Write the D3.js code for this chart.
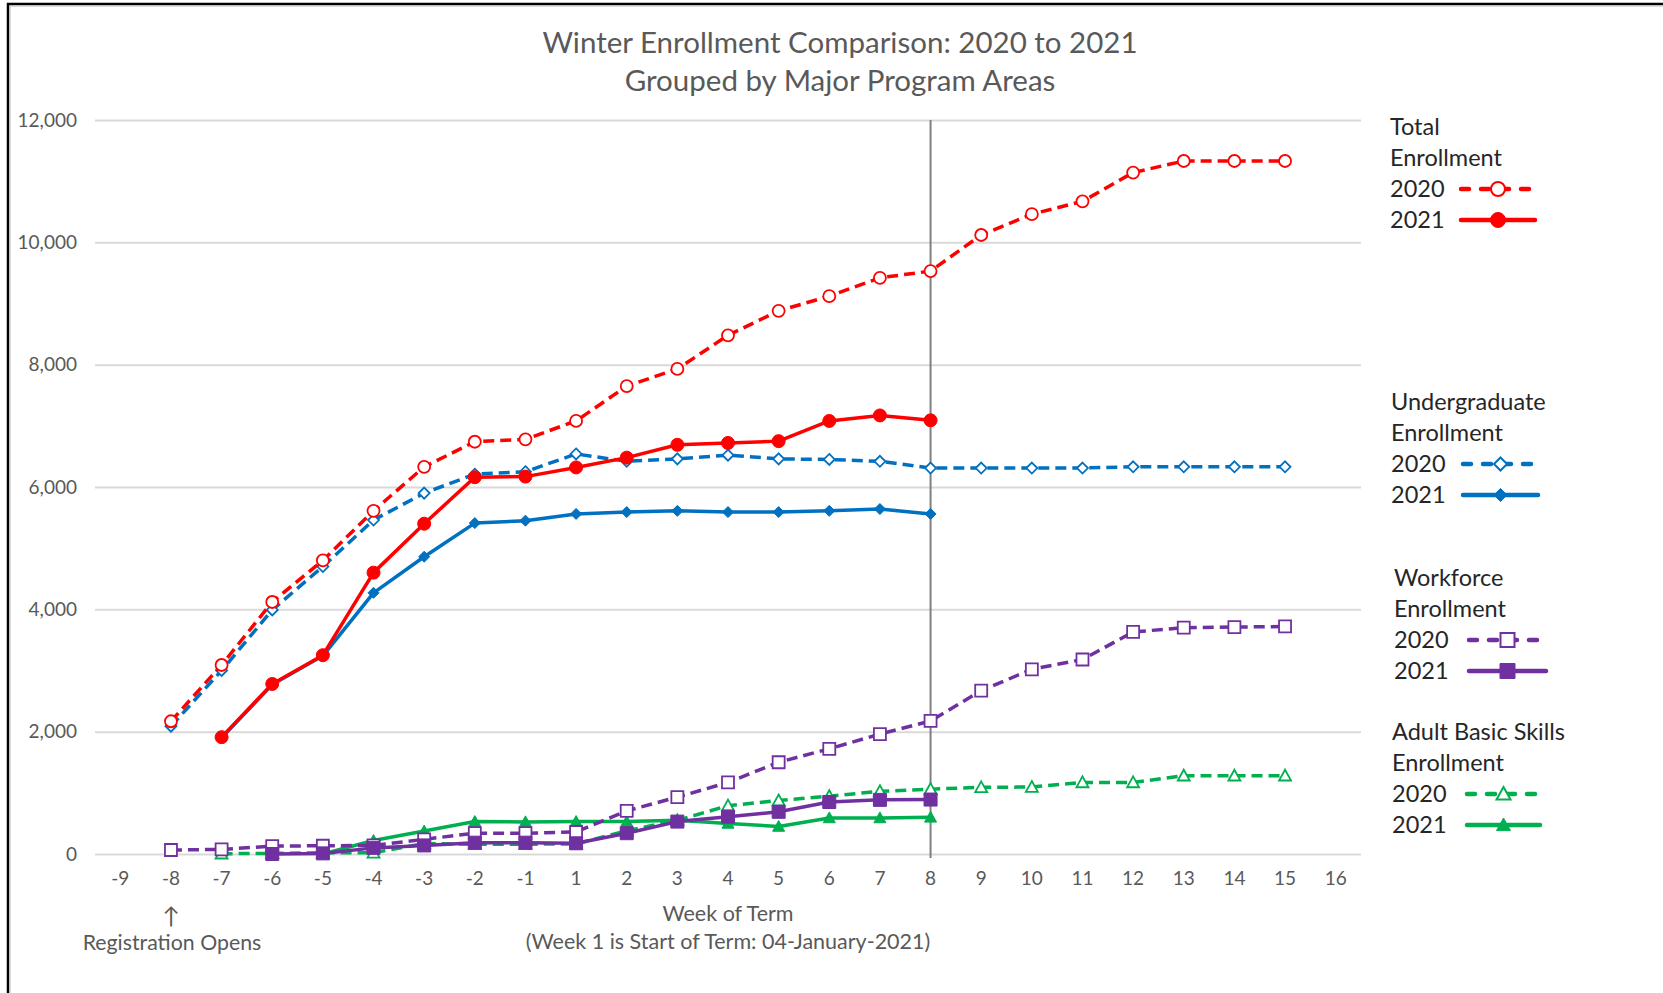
<!DOCTYPE html>
<html>
<head>
<meta charset="utf-8">
<script src="https://cdn.jsdelivr.net/npm/d3@7"></script>
<style>
  html, body { margin: 0; padding: 0; background: #fff; }
  svg { display: block; }
  text { font-family: Lato, "Open Sans", sans-serif; }
</style>
</head>
<body>
<svg id="chart" width="1663" height="993"></svg>
<script>
// ---------- DATA ----------
const weeks = ["-9","-8","-7","-6","-5","-4","-3","-2","-1","1","2","3","4","5","6","7","8","9","10","11","12","13","14","15","16"];
const yTicks = [0, 2000, 4000, 6000, 8000, 10000, 12000];

const total2020 = {"-8":2170,"-7":3090,"-6":4120,"-5":4800,"-4":5610,"-3":6330,"-2":6740,"-1":6780,"1":7080,"2":7650,"3":7930,"4":8480,"5":8880,"6":9120,"7":9420,"8":9530,"9":10120,"10":10460,"11":10670,"12":11140,"13":11330,"14":11330,"15":11330};
const total2021 = {"-7":1910,"-6":2780,"-5":3250,"-4":4600,"-3":5400,"-2":6160,"-1":6170,"1":6320,"2":6480,"3":6690,"4":6720,"5":6750,"6":7080,"7":7170,"8":7090};
const ug2020 = {"-8":2090,"-7":3000,"-6":3990,"-5":4700,"-4":5460,"-3":5900,"-2":6210,"-1":6250,"1":6540,"2":6420,"3":6460,"4":6520,"5":6460,"6":6450,"7":6420,"8":6310,"9":6310,"10":6310,"11":6310,"12":6330,"13":6330,"14":6330,"15":6330};
const ug2021 = {"-7":1900,"-6":2770,"-5":3240,"-4":4270,"-3":4860,"-2":5410,"-1":5450,"1":5560,"2":5590,"3":5610,"4":5590,"5":5590,"6":5610,"7":5640,"8":5560};
const wf2020 = {"-8":65,"-7":75,"-6":130,"-5":135,"-4":140,"-3":240,"-2":340,"-1":340,"1":360,"2":705,"3":930,"4":1170,"5":1500,"6":1720,"7":1960,"8":2175,"9":2670,"10":3020,"11":3180,"12":3630,"13":3700,"14":3710,"15":3720};
const wf2021 = {"-6":0,"-5":10,"-4":100,"-3":140,"-2":185,"-1":185,"1":175,"2":340,"3":530,"4":610,"5":690,"6":850,"7":885,"8":890};
const abs2020 = {"-7":5,"-6":10,"-5":20,"-4":20,"-3":170,"-2":160,"-1":160,"1":165,"2":380,"3":550,"4":790,"5":875,"6":945,"7":1025,"8":1060,"9":1090,"10":1095,"11":1170,"12":1170,"13":1280,"14":1280,"15":1280};
const abs2021 = {"-5":0,"-4":220,"-3":375,"-2":530,"-1":525,"1":530,"2":530,"3":550,"4":500,"5":450,"6":590,"7":590,"8":600};

const groupNames = ["Total\nEnrollment", "Undergraduate\nEnrollment", "Workforce\nEnrollment", "Adult Basic Skills\nEnrollment"];
const yearLabels = ["2020", "2021"];
const titleLines = ["Winter Enrollment Comparison: 2020 to 2021", "Grouped by Major Program Areas"];
const xTitleLines = ["Week of Term", "(Week 1 is Start of Term: 04-January-2021)"];
const markerWeek = "8";
const annotation = "Registration Opens";
const annotationWeek = "-8";

// ---------- STYLE / LAYOUT ----------
const series = [
  {data: ug2020,   color: "#0070C0", dash: true,  shape: "diamond",  filled: false, size: 5.5},
  {data: ug2021,   color: "#0070C0", dash: false, shape: "diamond",  filled: true,  size: 5.5},
  {data: total2020,color: "#FF0000", dash: true,  shape: "circle",   filled: false, size: 6},
  {data: total2021,color: "#FF0000", dash: false, shape: "circle",   filled: true,  size: 6.5},
  {data: abs2020,  color: "#00B050", dash: true,  shape: "triangle", filled: false, size: 6},
  {data: abs2021,  color: "#00B050", dash: false, shape: "triangle", filled: true,  size: 6},
  {data: wf2020,   color: "#7030A0", dash: true,  shape: "square",   filled: false, size: 6},
  {data: wf2021,   color: "#7030A0", dash: false, shape: "square",   filled: true,  size: 6.5}
];

const svg = d3.select("#chart");
const plot = {left: 95, right: 1361, top: 120, bottom: 854};

const x = d3.scaleBand().domain(weeks).range([plot.left, plot.right]);
const xc = w => x(w) + x.bandwidth() / 2;
const y = d3.scaleLinear().domain([0, 12000]).range([plot.bottom, plot.top]);

// frame
svg.append("line").attr("x1", 7).attr("x2", 1663).attr("y1", 4).attr("y2", 4).attr("stroke", "#000").attr("stroke-width", 2.5);
svg.append("line").attr("x1", 8).attr("x2", 8).attr("y1", 3).attr("y2", 993).attr("stroke", "#000").attr("stroke-width", 2.5);
svg.append("line").attr("x1", 9.5).attr("x2", 1663).attr("y1", 6).attr("y2", 6).attr("stroke", "#bbb").attr("stroke-width", 1);
svg.append("line").attr("x1", 10).attr("x2", 10).attr("y1", 6).attr("y2", 993).attr("stroke", "#bbb").attr("stroke-width", 1);

// title
svg.append("g").selectAll("text").data(titleLines).join("text")
  .attr("x", 840).attr("y", (d, i) => 53 + i * 38)
  .attr("text-anchor", "middle").attr("font-size", 29.5).attr("fill", "#595959")
  .text(d => d);

// gridlines & y axis
const yAxis = d3.axisLeft(y).tickValues(yTicks).tickSize(-(plot.right - plot.left)).tickFormat(d3.format(","));
const gy = svg.append("g").attr("transform", `translate(${plot.left},0)`).call(yAxis);
gy.select(".domain").remove();
gy.selectAll(".tick line").attr("stroke", "#D9D9D9").attr("stroke-width", 2);
gy.selectAll(".tick text").attr("x", -18).attr("font-size", 19).attr("fill", "#595959")
  .attr("font-family", "Lato, sans-serif");

// x axis labels
const xAxis = d3.axisBottom(x).tickSize(0).tickPadding(0);
const gx = svg.append("g").attr("transform", `translate(0,${plot.bottom})`).call(xAxis);
gx.select(".domain").remove();
gx.selectAll(".tick text").attr("y", 18).attr("font-size", 19).attr("fill", "#595959")
  .attr("font-family", "Lato, sans-serif");

// vertical line at current week
svg.append("line").attr("x1", xc(markerWeek)).attr("x2", xc(markerWeek))
  .attr("y1", plot.top).attr("y2", plot.bottom + 4)
  .attr("stroke", "#808080").attr("stroke-width", 2);

// x title
svg.append("g").selectAll("text").data(xTitleLines).join("text")
  .attr("x", 728).attr("y", (d, i) => 921 + i * 28)
  .attr("text-anchor", "middle").attr("font-size", 21.5).attr("fill", "#595959")
  .text(d => d);

// annotation
svg.append("text").attr("x", xc(annotationWeek)).attr("y", 924).attr("text-anchor", "middle")
  .attr("font-size", 23).attr("fill", "#595959").text("↑");
svg.append("text").attr("x", xc(annotationWeek) + 1).attr("y", 950).attr("text-anchor", "middle")
  .attr("font-size", 21.3).attr("fill", "#595959").text(annotation);

// markers
function markerPath(shape, s) {
  if (shape === "circle") return d3.symbol(d3.symbolCircle, Math.PI * s * s)();
  if (shape === "square") return `M${-s},${-s}H${s}V${s}H${-s}Z`;
  if (shape === "diamond") return `M0,${-s}L${s},0L0,${s}L${-s},0Z`;
  if (shape === "triangle") return `M0,${-s}L${s},${s*0.8}L${-s},${s*0.8}Z`;
}

const line = d3.line().x(d => xc(d.w)).y(d => y(d.v));

series.forEach(s => {
  const pts = weeks.filter(w => s.data[w] !== undefined).map(w => ({w, v: s.data[w]}));
  svg.append("path").datum(pts).attr("d", line)
    .attr("fill", "none").attr("stroke", s.color)
    .attr("stroke-width", 3.5)
    .attr("stroke-dasharray", s.dash ? "11,6" : null)
    .attr("stroke-linejoin", "round");
  svg.append("g").selectAll("path").data(pts).join("path")
    .attr("transform", d => `translate(${xc(d.w)},${y(d.v)})`)
    .attr("d", markerPath(s.shape, s.size))
    .attr("fill", s.filled ? s.color : "#fff")
    .attr("stroke", s.color).attr("stroke-width", s.filled ? 1 : 1.8);
});

// legend
const legendGroups = [
  {x: 1390, y: 135, lineX: [1461, 1535], s: [series[2], series[3]]},
  {x: 1391, y: 410, lineX: [1463, 1538], s: [series[0], series[1]]},
  {x: 1394, y: 586, lineX: [1469, 1546], s: [series[6], series[7]]},
  {x: 1392, y: 740, lineX: [1467, 1540], s: [series[4], series[5]]}
];
const lh = 31;
legendGroups.forEach((g, gi) => {
  const gg = svg.append("g");
  groupNames[gi].split("\n").forEach((t, i) => {
    gg.append("text").attr("x", g.x).attr("y", g.y + i * lh).attr("font-size", 23.5).attr("fill", "#262626").text(t);
  });
  g.s.forEach((s, i) => {
    const ty = g.y + (2 + i) * lh;
    gg.append("text").attr("x", g.x).attr("y", ty).attr("font-size", 23.5).attr("fill", "#262626").text(yearLabels[i]);
    const ly = ty - 8;
    gg.append("line").attr("x1", g.lineX[0]).attr("x2", g.lineX[1]).attr("y1", ly).attr("y2", ly)
      .attr("stroke", s.color).attr("stroke-width", 4.5).attr("stroke-linecap", "round")
      .attr("stroke-dasharray", s.dash ? "8,12" : null);
    const mx = (g.lineX[0] + g.lineX[1]) / 2;
    gg.append("path").attr("transform", `translate(${mx},${ly})`)
      .attr("d", markerPath(s.shape, s.size + 1))
      .attr("fill", s.filled ? s.color : "#fff")
      .attr("stroke", s.color).attr("stroke-width", s.filled ? 1 : 2);
  });
});
</script>
</body>
</html>
